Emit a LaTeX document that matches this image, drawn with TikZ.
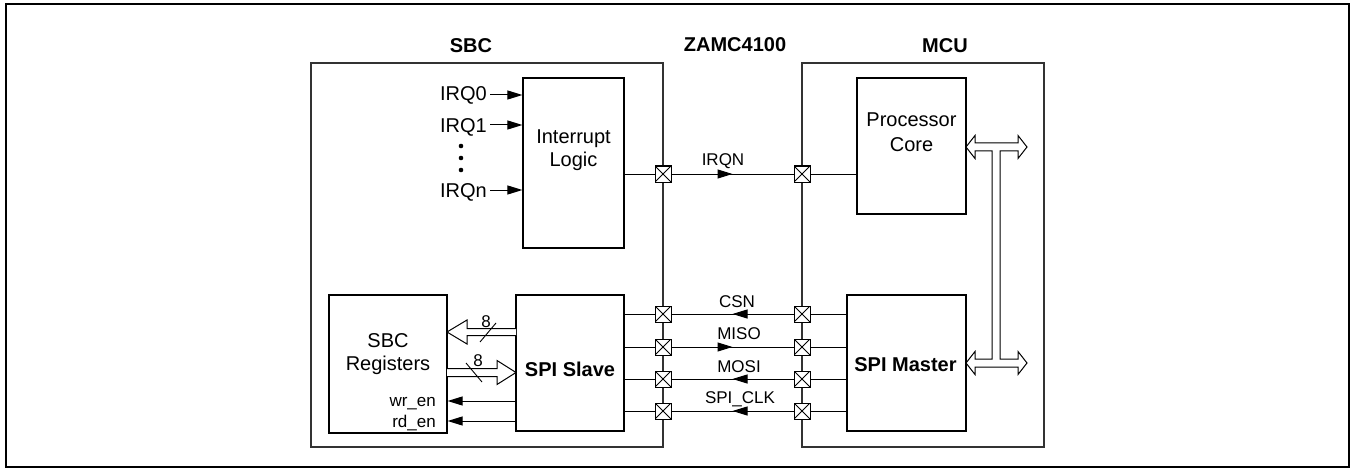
\documentclass[tikz,border=0pt]{standalone}
\usepackage{fontspec}
\setmainfont{Liberation Sans}
\usetikzlibrary{arrows.meta,decorations.markings,calc}
\begin{document}
\begin{tikzpicture}[x=1pt,y=-1pt,
  box/.style={draw=black, line width=1.2pt, fill=white, inner sep=0pt},
  frame/.style={draw=black!80, line width=1.4pt, inner sep=0pt},
  wire/.style={draw=black, line width=1pt},
  xbox/.style={draw=black, line width=1pt, fill=white, minimum size=16pt, inner sep=0pt,
    path picture={\draw[line width=0.8pt] (path picture bounding box.south west) -- (path picture bounding box.north east)
      (path picture bounding box.north west) -- (path picture bounding box.south east);}},
  big/.style={font=\fontsize{20}{24}\selectfont, inner sep=0pt},
  bigb/.style={font=\fontsize{20}{24}\selectfont\bfseries, inner sep=0pt},
  sig/.style={font=\fontsize{17}{20}\selectfont, inner sep=0pt},
  tip/.style={-{Triangle[length=15pt,width=9pt]}},
  midtip/.style={postaction={decorate}, decoration={markings, mark=at position 0.5 with {\arrow{Triangle[length=15pt,width=9pt]}}}},
  wide/.style={draw=black, line width=1pt, fill=white},
]
\useasboundingbox (0,0) rectangle (1352,468);
% outer frame
\draw[line width=2pt] (6,4) rectangle (1349,467);

% chip frames
\node[frame, minimum width=352pt, minimum height=384pt] (sbc) at (487,255) {};
\node[frame, minimum width=242pt, minimum height=384pt] (mcu) at (923,255) {};

% titles
\node[bigb, anchor=base] (tsbc) at (471,53) {SBC};
\node[bigb, anchor=base] (tzamc) at (735,52) {ZAMC4100};
\node[bigb, anchor=base] (tmcu) at (945,53) {MCU};

% blocks
\node[box, minimum width=101pt, minimum height=170pt] (il) at (573.5,163) {};
\node[box, minimum width=109pt, minimum height=136pt] (pc) at (911.5,146) {};
\node[box, minimum width=119pt, minimum height=136pt] (sm) at (906.5,363) {};
\node[box, minimum width=108pt, minimum height=136pt] (ss) at (570,363) {};
\node[box, minimum width=118pt, minimum height=138pt] (reg) at (388,364) {};

% block texts
\node[big, anchor=base] (tint) at (573.5,143) {Interrupt};
\node[big, anchor=base] (tlog) at (573.5,167) {Logic};
\node[big, anchor=base] (tproc) at (911.5,127) {Processor};
\node[big, anchor=base] (tcore) at (911.5,152) {Core};
\node[bigb, anchor=base] (tsm) at (905.5,371) {SPI Master};
\node[bigb, anchor=base] (tss) at (570,376) {SPI Slave};
\node[big, anchor=base] (tsbcr) at (388,347) {SBC};
\node[big, anchor=base] (treg) at (388,370) {Registers};
\node[sig, anchor=base east] (twr) at (436,406) {wr\_en};
\node[sig, anchor=base east] (trd) at (436,427) {rd\_en};

% IRQ inputs
\node[big, anchor=base east] (irq0) at (487,101) {IRQ0};
\node[big, anchor=base east] (irq1) at (487,132) {IRQ1};
\node[big, anchor=base east] (irqn) at (487,197) {IRQn};
\draw[wire, tip] (irq0.base east |- 0,95) ++(3,0) -- (il.west |- 0,95);
\draw[wire, tip] (irq1.base east |- 0,125) ++(3,0) -- (il.west |- 0,125);
\draw[wire, tip] (irqn.base east |- 0,190) ++(3,0) -- (il.west |- 0,190);
\fill (461,146) circle (2.3);
\fill (461,158) circle (2.3);
\fill (461,170) circle (2.3);

% cross boxes
\node[xbox] (a0) at (663,174) {};
\node[xbox] (b0) at (802,174) {};
\node[xbox] (a1) at (663,314) {};
\node[xbox] (b1) at (802,314) {};
\node[xbox] (a2) at (663,347) {};
\node[xbox] (b2) at (802,347) {};
\node[xbox] (a3) at (663,379) {};
\node[xbox] (b3) at (802,379) {};
\node[xbox] (a4) at (663,411) {};
\node[xbox] (b4) at (802,411) {};

% IRQN
\draw[wire] (il.east |- a0) -- (a0);
\draw[wire, midtip] (a0) -- (b0);
\draw[wire] (b0) -- (pc.west |- b0);
\node[sig, anchor=base] (lirqn) at (723,165) {IRQN};

% SPI lines
\draw[wire] (ss.east |- a1) -- (a1);
\draw[wire, midtip] (b1) -- (a1);
\draw[wire] (b1) -- (sm.west |- b1);
\draw[wire] (ss.east |- a2) -- (a2);
\draw[wire, midtip] (a2) -- (b2);
\draw[wire] (b2) -- (sm.west |- b2);
\draw[wire] (ss.east |- a3) -- (a3);
\draw[wire, midtip] (b3) -- (a3);
\draw[wire] (b3) -- (sm.west |- b3);
\draw[wire] (ss.east |- a4) -- (a4);
\draw[wire, midtip] (b4) -- (a4);
\draw[wire] (b4) -- (sm.west |- b4);
\node[sig, anchor=base] (lcsn) at (737,307) {CSN};
\node[sig, anchor=base] (lmiso) at (739,339) {MISO};
\node[sig, anchor=base] (lmosi) at (739,372) {MOSI};
\node[sig, anchor=base] (lclk) at (740,403) {SPI\_CLK};

% enables
\draw[wire, tip] (ss.west |- 0,401) -- (reg.east |- 0,401);
\draw[wire, tip] (ss.west |- 0,421) -- (reg.east |- 0,421);

% wide data arrows
\draw[wide] (516,328.5) -- (467,328.5) -- (467,320) -- (447,332) -- (467,344) -- (467,335.5) -- (516,335.5);
\draw[wide] (447,368.5) -- (497,368.5) -- (497,360.5) -- (516,372.5) -- (497,384.5) -- (497,376.5) -- (447,376.5);
\draw[line width=0.9pt] (480,342) -- (496,323);
\draw[line width=0.9pt] (466,363) -- (482,382);
\node[sig, anchor=base] (n8a) at (486,327) {8};
\node[sig, anchor=base] (n8b) at (478,366) {8};

% bus
\draw[wide] (966,147) -- (975,135.5) -- (975,143) -- (1018,143) -- (1018,135.5) -- (1027,147)
  -- (1018,158.5) -- (1018,151) -- (1000,151) -- (1000,359) -- (1018,359) -- (1018,351.5)
  -- (1027,363) -- (1018,374.5) -- (1018,367) -- (975,367) -- (975,374.5) -- (966,363)
  -- (975,351.5) -- (975,359) -- (992,359) -- (992,151) -- (975,151) -- (975,158.5) -- cycle;
\end{tikzpicture}
\end{document}
